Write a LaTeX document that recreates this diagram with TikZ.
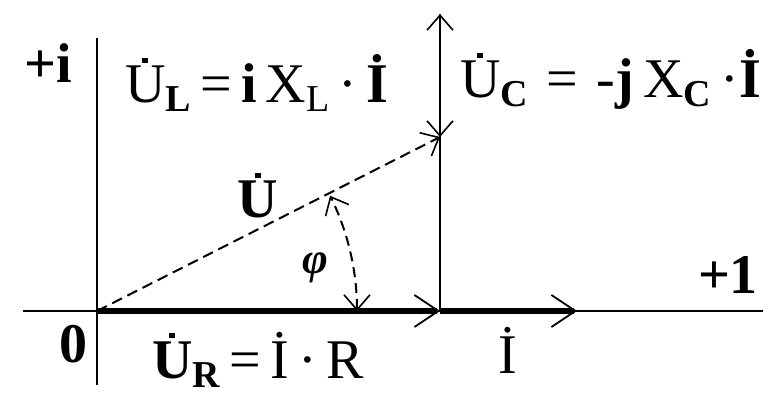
\documentclass[tikz,border=0pt]{standalone}
\usepackage{fontspec}
\setmainfont{Liberation Serif}
\usetikzlibrary{arrows.meta}
\newcommand\dt[1]{\leavevmode\vbox{\offinterlineskip\halign{\hfil##\hfil\cr\rule{5.5pt}{5.5pt}\cr\noalign{\kern3pt}#1\cr}}}
\newcommand\sub[1]{\raisebox{-9pt}{\fontsize{38}{40}\selectfont #1}}
\tikzset{
  barb/.tip={Straight Barb[length=15pt,width=26pt,line width=1.6pt]},
  bigbarb/.tip={Straight Barb[length=24pt,width=32pt,line width=1.8pt]},
  axisline/.style={line width=2.5pt},
  heavyvec/.style={line width=6pt,-bigbarb},
  thinvec/.style={line width=2.5pt,-barb},
  dashvec/.style={line width=2pt,dash pattern=on 11pt off 6pt,-barb},
  anglearc/.style={line width=2pt,dash pattern=on 10pt off 6pt,barb-barb},
  lbl/.style={inner sep=0pt,outer sep=0pt,font=\fontsize{56}{60}\selectfont}
}
\begin{document}
\begin{tikzpicture}[x=1pt,y=1pt]
\useasboundingbox (0,0) rectangle (763,394);
\coordinate (O) at (97,83);
\coordinate (R) at (440,83);
\coordinate (I) at (577,83);
\coordinate (T) at (440,380);
\coordinate (U) at (440,257);
\coordinate (xl) at (23,83);
\coordinate (xr) at (763,83);
\coordinate (yt) at (97,356);
\coordinate (yb) at (97,9);
\coordinate (A0) at (357,83);
% axes
\draw[axisline] (xl) -- (xr);
\draw[axisline] (yb) -- (yt);
% vectors
\draw[heavyvec] (O) -- (R);
\draw[heavyvec] (R) -- (I);
\draw[thinvec] (R) -- (T);
\draw[thinvec] (T) -- (U);
\draw[dashvec] (O) -- (U);
\draw[anglearc] (A0) arc[start angle=0,end angle=26.3,radius=260];
% labels
\node[lbl,anchor=base] (pi) at (48,311) {\textbf{+i}};
\node[lbl,anchor=base west] (ul) at (125,291) {\dt{U}\sub{\textbf{L}}\,=\,\textbf{i}\,X\sub{L}\,·\,\textbf{İ}};
\node[lbl,anchor=base west] (uc) at (460,296) {\dt{U}\sub{\textbf{C}}\,\,=\,\,-\textbf{j}\,X\sub{\textbf{C}}\,·\textbf{İ}};
\node[lbl,anchor=base] (u) at (258,176) {\dt{\textbf{U}}};
\node[lbl,anchor=center,font=\fontsize{44}{48}\selectfont] (phi) at (315,126) {\textbf{\textit{φ}}};
\node[lbl,anchor=base] (one) at (728,101) {\textbf{+1}};
\node[lbl,anchor=base] (zero) at (73,32) {\textbf{0}};
\node[lbl,anchor=base west] (ur) at (152,16) {\dt{\textbf{U}}\sub{\textbf{R}}\,=\,İ\,·\,R};
\node[lbl,anchor=base] (ii) at (508,21) {İ};
\end{tikzpicture}
\end{document}
